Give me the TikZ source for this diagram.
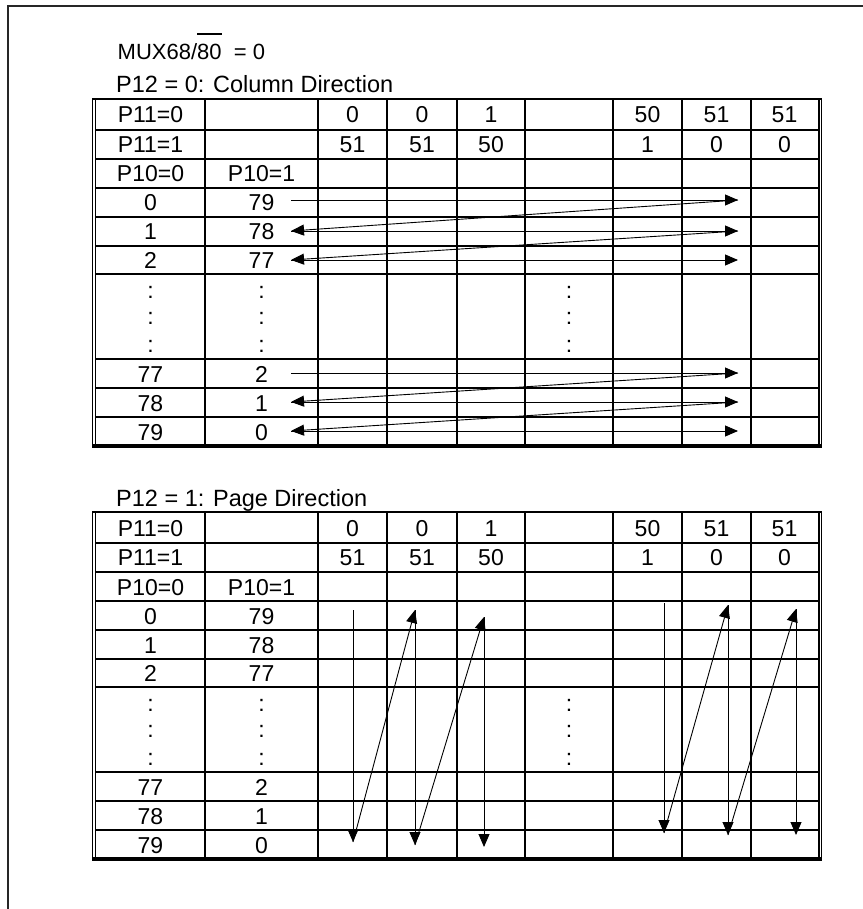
\documentclass[tikz,border=0pt]{standalone}
\usepackage{fontspec}
\setmainfont{Liberation Sans}
\usetikzlibrary{arrows.meta}

\newsavebox\barbox
\newcommand\highbar[1]{\sbox\barbox{#1}\rlap{\rule[1.15em]{\wd\barbox}{0.06em}}\usebox\barbox}

\tikzset{
  cell/.style={font=\fontsize{23}{28}\selectfont, anchor=base, inner sep=0pt},
  heading/.style={font=\fontsize{23.5}{28}\selectfont, anchor=base west, inner sep=0pt},
  gridline/.style={line width=1.6pt},
  flow/.style={line width=0.9pt, -{Triangle[length=13pt,width=11pt]}},
  frameline/.style={line width=1.3pt, draw=black!85},
}

\begin{document}
\begin{tikzpicture}[x=1pt, y=-1pt]
  \useasboundingbox (0,0) rectangle (862,909);
  % outer frame
  \draw[frameline] (8,915) -- (8,6) -- (868,6);
  % headings
  \node[heading, font=\fontsize{22}{26}\selectfont] (mux) at (117.5,60) {MUX68/\highbar{80}\ \ = 0};
  \node[heading] (coltitle) at (116,93) {P12 = 0: Column Direction};
  \node[heading] (pagetitle) at (116,506) {P12 = 1: Page Direction};
  % both tables
  \foreach \T/\tb in {99/up, 512/lo} {
    \foreach \r in {31,60,89,118,147,175,260,289,318}
      \draw[gridline] (96,\T+\r) -- (818,\T+\r);
    \foreach \c in {205,318,387,457,525,613,682,751}
      \draw[gridline] (\c,\T) -- (\c,\T+347);
    % border
    \draw[line width=1.2pt] (92.5,\T) -- (92.5,\T+347) (95.8,\T) -- (95.8,\T+347);
    \draw[line width=2pt] (818.5,\T) -- (818.5,\T+347);
    \draw[line width=1pt] (821.3,\T) -- (821.3,\T+347);
    \draw[line width=2.4pt] (92,\T) -- (822,\T);
    \draw[line width=3.2pt] (92,\T+347) -- (822,\T+347);
    % header rows
    \node[cell] (\tb-p0) at (150.5,\T+24) {P11=0};
    \node[cell] (\tb-p1) at (150.5,\T+53.5) {P11=1};
    \node[cell] (\tb-q0) at (150.5,\T+83) {P10=0};
    \node[cell] (\tb-q1) at (261.5,\T+83) {P10=1};
    \foreach \x/\a/\b [count=\k] in {352.5/0/51, 422/0/51, 491/1/50, 647.5/50/1, 716.5/51/0, 784.5/51/0} {
      \node[cell] (\tb-h\k) at (\x,\T+24) {\a};
      \node[cell] (\tb-g\k) at (\x,\T+53.5) {\b};
    }
    % row numbers
    \foreach \y/\a/\b [count=\k] in {112/0/79, 141/1/78, 169.5/2/77, 283/77/2, 312/78/1, 341/79/0} {
      \node[cell] (\tb-a\k) at (150.5,\T+\y) {\a};
      \node[cell] (\tb-b\k) at (261.5,\T+\y) {\b};
    }
    \foreach \y [count=\k] in {199,225.5,253}
      \foreach \x/\n in {150.5/a, 261.5/b, 569/m}
        \node[cell] (\tb-d\n\k) at (\x,\T+\y) {:};
  }
  % column direction
  \foreach \y [count=\k] in {200,231,260,373,402,431} {
    \coordinate (cl\k) at (291,\y);
    \coordinate (cr\k) at (738,\y);
  }
  \foreach \k in {1,...,6}
    \draw[flow] (cl\k) -- (cr\k);
  \foreach \k/\n in {1/2, 2/3, 4/5, 5/6}
    \draw[flow] (cr\k) -- (cl\n);
  % page direction
  \foreach \x/\t/\b [count=\k] in {353/610/842, 415/610/845, 484/617/847, 664/603/833, 728/605/835, 796/609/835} {
    \coordinate (pt\k) at (\x,\t);
    \coordinate (pb\k) at (\x,\b);
  }
  \foreach \k in {1,...,6}
    \draw[flow] (pt\k) -- (pb\k);
  \foreach \k/\n in {1/2, 2/3, 4/5, 5/6}
    \draw[flow] (pb\k) -- (pt\n);
\end{tikzpicture}
\end{document}
